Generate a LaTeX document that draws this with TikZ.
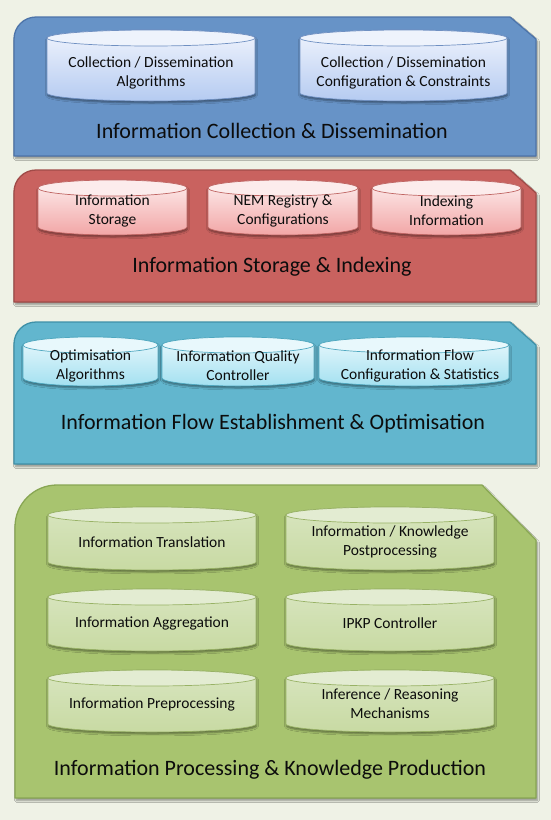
\documentclass[tikz,border=0pt]{standalone}
\usepackage{fontspec}
\setmainfont{Carlito}
\usetikzlibrary{shadows.blur}

\definecolor{pagebg}{HTML}{EFF2E6}
\definecolor{inktext}{HTML}{0C0C0C}
% layer colours
\definecolor{blueFill}{HTML}{6793C7}\definecolor{blueEdge}{HTML}{4D74A9}
\definecolor{redFill}{HTML}{C9625F}\definecolor{redEdge}{HTML}{A04B48}
\definecolor{cyanFill}{HTML}{62B6CE}\definecolor{cyanEdge}{HTML}{3F91A8}
\definecolor{greenFill}{HTML}{A8C46F}\definecolor{greenEdge}{HTML}{88A653}
% drum colours: lid, upper body, lower body, outline
\definecolor{bLid}{HTML}{EEF3FC}\definecolor{bUp}{HTML}{F0F4FD}\definecolor{bLo}{HTML}{B5CBF1}\definecolor{bLine}{HTML}{6F90C2}
\definecolor{rLid}{HTML}{FCECEC}\definecolor{rUp}{HTML}{FDEEEE}\definecolor{rLo}{HTML}{F2A6A6}\definecolor{rLine}{HTML}{C06563}
\definecolor{cLid}{HTML}{E8F8FC}\definecolor{cUp}{HTML}{EAF9FD}\definecolor{cLo}{HTML}{A3E0F0}\definecolor{cLine}{HTML}{4FA8C0}
\definecolor{gLid}{HTML}{E3ECD2}\definecolor{gUp}{HTML}{D8E5BF}\definecolor{gLo}{HTML}{C8DAA3}\definecolor{gLine}{HTML}{98B265}

\tikzset{
  panel/.style={line width=1.3pt, line join=round,
    blur shadow={shadow xshift=1.5pt, shadow yshift=-2.5pt, shadow blur steps=6, shadow opacity=40}},
  drumbody/.style={line width=0.7pt,
    blur shadow={shadow xshift=0.5pt, shadow yshift=-2pt, shadow blur steps=4, shadow opacity=45}},
  drumlid/.style={line width=0.7pt},
  title/.style={font=\fontsize{22}{26}\selectfont, text=inktext, inner sep=0pt},
  drumtext/.style={font=\fontsize{15.5}{19}\selectfont, text=inktext, align=center, inner sep=0pt},
}

% layer outline: #1 left, #2 top, #3 right, #4 bottom, #5 corner radius,
% #6 x where the top edge is cut, #7 y where the cut meets the right edge, #8 colour prefix
\newcommand\layerbox[8]{%
  \path[panel, fill=#8Fill, draw=#8Edge]
    (#1,{-#4}) -- (#1,{-(#2+#5)}) arc[start angle=180, end angle=90, radius=#5]
    -- (#6,{-#2}) -- (#3,{-#7}) -- (#3,{-#4}) -- cycle;}

% drum: #1 left, #2 top, #3 right, #4 bottom, #5 colour prefix
\newcommand\drum[5]{%
  \path[drumbody, top color=#5Up, bottom color=#5Lo, draw=#5Line]
    (#1,{-(#2+8)}) -- (#1,{-(#4-8)})
    arc[start angle=180, end angle=360, x radius={(#3-#1)/2}, y radius=8]
    -- (#3,{-(#2+8)})
    arc[start angle=0, end angle=180, x radius={(#3-#1)/2}, y radius=8] -- cycle;
  \path[drumlid, fill=#5Lid, draw=#5Line]
    ({(#1+#3)/2},{-(#2+8)}) ellipse[x radius={(#3-#1)/2}, y radius=8];}

\begin{document}
\begin{tikzpicture}[x=1pt, y=1pt]
  \fill[pagebg] (0,0) rectangle (551,-820);
  \useasboundingbox (0,0) rectangle (551,-820);

  % --- Information Collection & Dissemination
  \layerbox{14}{17}{536}{156}{22}{510}{39}{blue}
  \drum{47}{30}{255}{101}{b}
  \drum{300}{30}{507}{101}{b}
  \node[drumtext] (cdAlg) at (151,-73) {Collection / Dissemination\\Algorithms};
  \node[drumtext] (cdCfg) at (403.5,-73) {Collection / Dissemination\\Configuration \& Constraints};
  \node[title] (cdTitle) at (272,-131) {Information Collection \& Dissemination};

  % --- Information Storage & Indexing
  \layerbox{14}{170}{536}{302}{22}{510}{193}{red}
  \drum{38}{180}{187}{235}{r}
  \drum{208}{180}{358}{235}{r}
  \drum{372}{180}{521}{235}{r}
  \node[drumtext] (siStore) at (112.5,-210.5) {Information\\Storage};
  \node[drumtext] (siNem) at (283,-210.5) {NEM Registry \&\\Configurations};
  \node[drumtext] (siIdx) at (446.5,-210.5) {Indexing\\Information};
  \node[title] (siTitle) at (272,-267) {Information Storage \& Indexing};

  % --- Information Flow Establishment & Optimisation
  \layerbox{14}{322}{536}{464}{22}{510}{345}{cyan}
  \drum{23}{337}{158}{386}{c}
  \drum{162}{337}{314}{386}{c}
  \drum{319}{337}{509}{386}{c}
  \node[drumtext] (foAlg) at (90.5,-365.5) {Optimisation\\Algorithms};
  \node[drumtext] (foQual) at (238,-365.5) {Information Quality\\Controller};
  \node[drumtext] (foCfg) at (420,-365.5) {Information Flow\\Configuration \& Statistics};
  \node[title] (foTitle) at (273,-424) {Information Flow Establishment \& Optimisation};

  % --- Information Processing & Knowledge Production
  \layerbox{15}{485}{536}{798}{42}{482}{540}{green}
  \drum{48}{507}{256}{570}{g}
  \drum{286}{507}{494}{570}{g}
  \drum{48}{589}{256}{651}{g}
  \drum{286}{589}{494}{651}{g}
  \drum{48}{670}{256}{732}{g}
  \drum{286}{670}{494}{732}{g}
  \node[drumtext] (pkTrans) at (152,-542) {Information Translation};
  \node[drumtext] (pkPost) at (390,-542) {Information / Knowledge\\Postprocessing};
  \node[drumtext] (pkAggr) at (152,-623) {Information Aggregation};
  \node[drumtext] (pkCtrl) at (390,-623) {IPKP Controller};
  \node[drumtext] (pkPre) at (152,-704) {Information Preprocessing};
  \node[drumtext] (pkInf) at (390,-704) {Inference / Reasoning\\Mechanisms};
  \node[title] (pkTitle) at (270,-770) {Information Processing \& Knowledge Production};
\end{tikzpicture}
\end{document}
